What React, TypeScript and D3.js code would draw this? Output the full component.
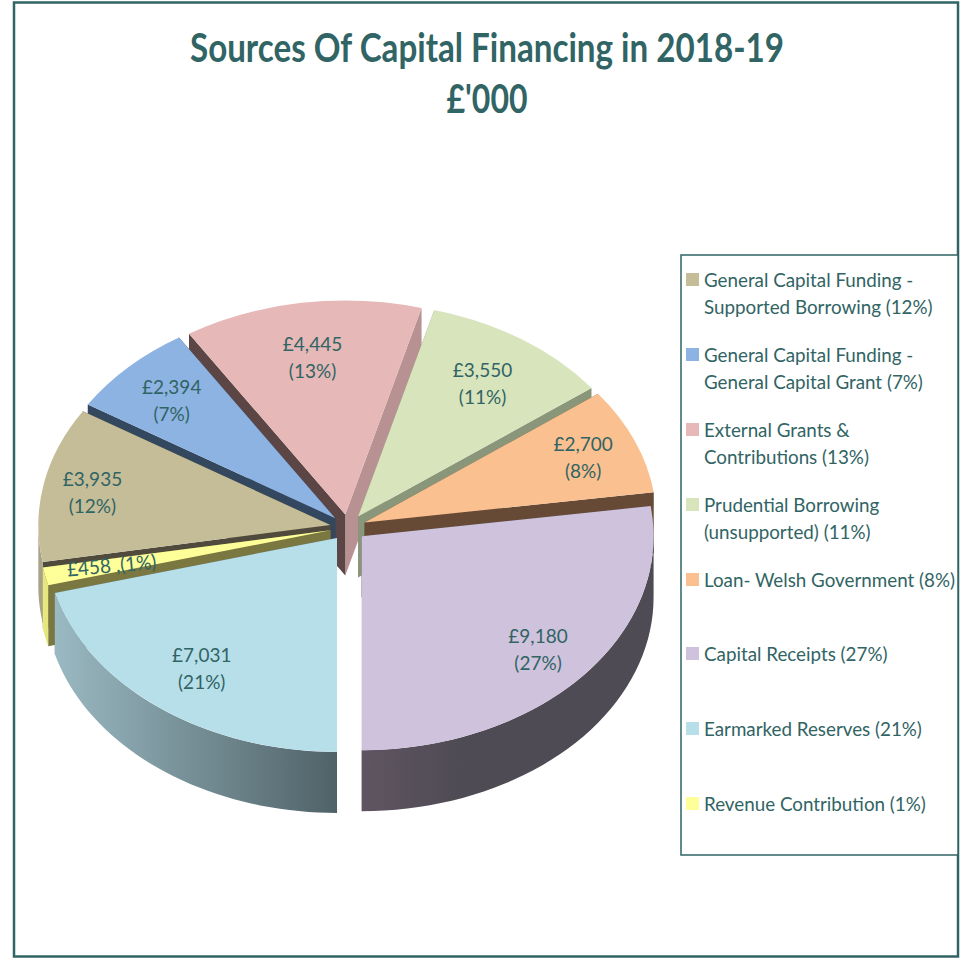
import React from "react";
import * as d3 from "d3";

const names = ["Capital Receipts", "Earmarked Reserves", "Revenue Contribution", "General Capital Funding - Supported Borrowing", "General Capital Funding - General Capital Grant", "External Grants & Contributions", "Prudential Borrowing (unsupported)", "Loan- Welsh Government"];
const values = [9180, 7031, 458, 3935, 2394, 4445, 3550, 2700];
const percents = [27, 21, 1, 12, 7, 13, 11, 8];
const topColors = ["#cfc2dc", "#b7dfe9", "#ffff99", "#c4bd97", "#8db3e2", "#e6b8b7", "#d8e4bc", "#fac090"];
const startCutColors = ["#4f4a55", "#5a7078", "#7a7840", "#4f4a3c", "#33475f", "#5c4545", "#8a9679", "#664a35"];
const endCutColors = ["#4f4a55", "#5a7078", "#7a7840", "#4f4a3c", "#33475f", "#b89292", "#8a9679", "#664a35"];
const wallLeft = ["#5f5562", "#9dbcc5", "#e8e880", "#a8a286", "#6f8fb8", "#b89292", "#8a9679", "#a88460"];
const wallRight = ["#4e4b54", "#4f6268", "#b8b860", "#8f8a70", "#5a7698", "#b89292", "#8a9679", "#8a6c50"];
const labelFracs = [0.8, 0.76, 0.765, 0.83, 0.79, 0.75, 0.76, 0.81];
const paintOrder = [5, 6, 4, 7, 3, 2, 1, 0];

const legendOrder = [3, 4, 5, 6, 7, 0, 1, 2];
const legendLines = [
  ["General Capital Funding -", "Supported Borrowing (12%)"],
  ["General Capital Funding -", "General Capital Grant (7%)"],
  ["External Grants &", "Contributions (13%)"],
  ["Prudential Borrowing", "(unsupported) (11%)"],
  ["Loan- Welsh Government (8%)"],
  ["Capital Receipts (27%)"],
  ["Earmarked Reserves (21%)"],
  ["Revenue Contribution (1%)"],
];
const legendY = [280, 355, 430, 505, 580, 654, 729, 804];

const TEAL = "#316464";
const FONT = "Lato, 'Open Sans', sans-serif";
const cx = 348, cy = 527.5, rx = 292, ry = 214, depth = 61, explode = 18;
const k = ry / rx;
const startDeg = 180 - (values[0] / d3.sum(values)) * 360;

const pieGen = d3.pie<number>().sort(null)
  .startAngle((startDeg * Math.PI) / 180)
  .endAngle((startDeg * Math.PI) / 180 + 2 * Math.PI);
const arcs = pieGen(values);
const arcGen = d3.arc<any>().innerRadius(0).outerRadius(rx);
const lineGen = d3.line<[number, number]>();

const pt = (a: number, r = 1): [number, number] => [Math.sin(a) * rx * r, -Math.cos(a) * ry * r];

export default function App() {
  return (
    <svg width={961} height={958} style={{ position: "absolute", left: 0, top: 0, display: "block", fontFamily: FONT }}>
      <defs>
        {arcs.map((_, i) => (
          <linearGradient key={i} id={`wall${i}`} gradientUnits="userSpaceOnUse"
            x1={i === 0 ? 0 : -rx} x2={i === 0 ? rx * 0.35 : 0} y1={0} y2={0}>
            <stop offset="0" stopColor={wallLeft[i]} />
            <stop offset="1" stopColor={wallRight[i]} />
          </linearGradient>
        ))}
      </defs>
      <rect x={14} y={2.5} width={944} height={954} fill="#fff" stroke={TEAL} strokeWidth={2.5} />
      <text x={487} y={62} textAnchor="middle" fontSize={41} fontWeight={700} fill={TEAL} textLength={594} lengthAdjust="spacingAndGlyphs">Sources Of Capital Financing in 2018-19</text>
      <text x={487} y={113} textAnchor="middle" fontSize={41} fontWeight={700} fill={TEAL} textLength={81} lengthAdjust="spacingAndGlyphs">£'000</text>

      {paintOrder.map((i) => {
        const d = arcs[i];
        const mid = (d.startAngle + d.endAngle) / 2;
        const ox = cx + Math.sin(mid) * explode;
        const oy = cy - Math.cos(mid) * explode * k;
        const a0 = Math.max(d.startAngle, Math.PI / 2);
        const a1 = Math.min(d.endAngle, (3 * Math.PI) / 2);
        let outer: string | null = null;
        if (a1 > a0) {
          const steps = d3.range(0, 41).map((t) => a0 + ((a1 - a0) * t) / 40);
          const top = steps.map((a) => pt(a));
          const bottom = steps.slice().reverse().map((a) => {
            const p = pt(a);
            return [p[0], p[1] + depth] as [number, number];
          });
          outer = lineGen([...top, ...bottom]) + "Z";
        }
        const cut = (a: number) => {
          const p = pt(a);
          return lineGen([[0, 0], p, [p[0], p[1] + depth], [0, depth]]) + "Z";
        };
        return (
          <g key={i} transform={`translate(${ox},${oy})`}>
            <path d={cut(d.endAngle)} fill={endCutColors[i]} />
            <path d={cut(d.startAngle)} fill={startCutColors[i]} />
            {outer && <path d={outer} fill={`url(#wall${i})`} />}
            <path d={arcGen(d) as string} transform={`scale(1,${k})`} fill={topColors[i]} />
          </g>
        );
      })}

      {arcs.map((d, i) => {
        const mid = (d.startAngle + d.endAngle) / 2;
        const p = pt(mid, labelFracs[i]);
        const x = cx + Math.sin(mid) * explode + p[0];
        const y = cy - Math.cos(mid) * explode * k + p[1];
        const money = "£" + d3.format(",")(values[i]);
        if (i === 2) {
          return (
            <text key={i} transform={`translate(${x},${y + 7}) rotate(-5) scale(0.95,1)`} textAnchor="middle" fontSize={20} fill={TEAL}>
              {money} ,({percents[i]}%)
            </text>
          );
        }
        return (
          <g key={i} transform={`translate(${x},${y})`}>
            <text textAnchor="middle" fontSize={20} fill={TEAL} transform="scale(0.95,1)">
              <tspan x={0} y={-5}>{money}</tspan>
              <tspan x={0} y={22}>({percents[i]}%)</tspan>
            </text>
          </g>
        );
      })}

      <rect x={681} y={255} width={277} height={600} fill="#fff" stroke={TEAL} strokeWidth={1.5} />
      {legendOrder.map((idx, j) => (
        <g key={idx}>
          <rect x={686} y={legendY[j] - 7} width={13} height={13} fill={topColors[idx]} />
          {legendLines[j].map((line, l) => (
            <text key={l} transform={`translate(704,${legendY[j] + 7 + l * 27}) scale(0.94,1)`} fontSize={20} fill={TEAL}>{line}</text>
          ))}
        </g>
      ))}
    </svg>
  );
}
